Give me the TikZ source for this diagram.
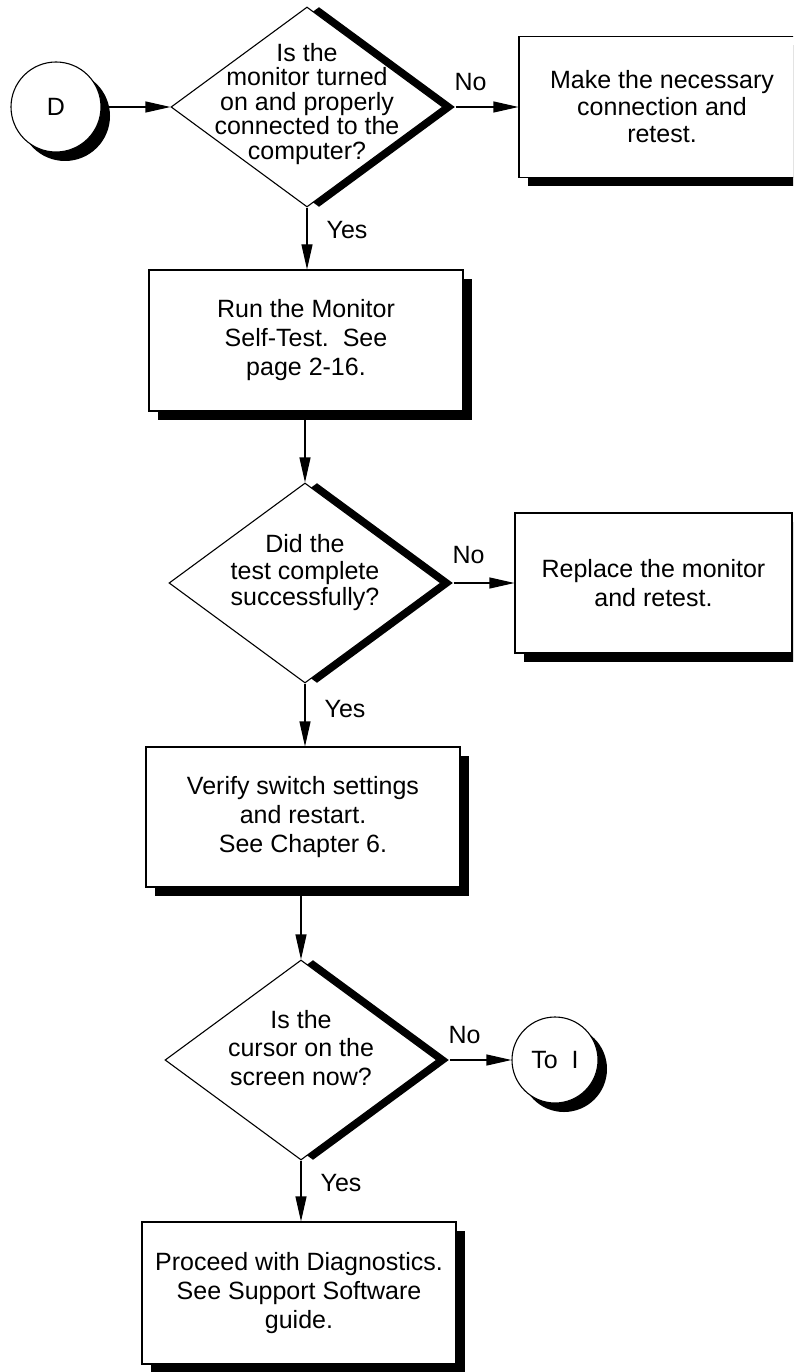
\documentclass[tikz,border=0pt]{standalone}
\usepackage{fontspec}
\setmainfont{Liberation Sans}
\usetikzlibrary{arrows.meta,shapes.geometric,shadows,calc}

\begin{document}
\begin{tikzpicture}[x=1pt,y=-1pt,
  every node/.style={font=\fontsize{25}{29}\selectfont},
  arr/.style={line width=1.1pt,-{Triangle[length=25pt,width=11pt]}},
  blackshadow/.style={drop shadow={shadow xshift=#1,shadow yshift=-#1,opacity=1,fill=black}},
  procbox/.style={draw,line width=1.1pt,fill=white,rectangle,
    minimum width=314pt,minimum height=141pt,inner sep=0pt,align=center,
    blackshadow=9pt},
  decision/.style={draw,line width=1.1pt,fill=white,diamond,
    minimum width=272pt,minimum height=200pt,inner sep=0pt,
    drop shadow={shadow xshift=12pt,shadow yshift=0pt,opacity=1,fill=black}},
  dtext/.style={align=center,inner sep=0pt},
  connector/.style={draw,line width=1.1pt,fill=white,circle,
    inner sep=0pt,blackshadow=9pt},
  answer/.style={inner sep=0pt}]

\useasboundingbox (0,0) rectangle (793,1372);
\clip (0,0) rectangle (793,1372);

% entry connector and first decision
\node[connector,minimum size=90pt] (cD) at (56,107) {D};
\node[decision] (d1) at (307,107) {};
\node[dtext,font=\fontsize{25}{24.5}\selectfont] (d1t) at ($(d1)+(0,-3)$)
  {Is the\\monitor turned\\on and properly\\connected to the\\computer?};
\node[procbox,minimum width=286pt,font=\fontsize{25}{27}\selectfont] (b1) at (662,107)
  {Make the necessary\\connection and\\retest.};

% self-test
\node[procbox] (b2) at (306,340.5) {Run the Monitor\\Self-Test.\ \ See\\page 2-16.};
\node[decision] (d2) at (305,583) {};
\node[dtext,font=\fontsize{25}{26.5}\selectfont] (d2t) at ($(d2)+(0,-10)$)
  {Did the\\test complete\\successfully?};
\node[procbox,minimum width=277pt,minimum height=140pt] (b3) at (653.5,583)
  {Replace the monitor\\and retest.};

% switch settings
\node[procbox,minimum height=140pt] (b4) at (303,817)
  {Verify switch settings\\and restart.\\See Chapter 6.};
\node[decision] (d3) at (301,1060) {};
\node[dtext,font=\fontsize{25}{28.5}\selectfont] (d3t) at ($(d3)+(0,-12)$)
  {Is the\\cursor on the\\screen now?};
\node[connector,minimum size=86pt] (cI) at (555,1060) {To\ \ I};
\node[procbox,minimum height=142pt] (b5) at (299,1293)
  {Proceed with Diagnostics.\\See Support Software\\guide.};

% connectors
\draw[arr] (cD.east) -- (d1.west);
\draw[arr] ([xshift=12pt]d1.east) -- (b1.west);
\draw[arr] (d1.south) -- (d1.south |- b2.north);
\draw[arr] (d2.north |- b2.south) -- (d2.north);
\draw[arr] ([xshift=12pt]d2.east) -- (b3.west);
\draw[arr] (d2.south) -- (d2.south |- b4.north);
\draw[arr] (d3.north |- b4.south) -- (d3.north);
\draw[arr] ([xshift=12pt]d3.east) -- (cI.west);
\draw[arr] (d3.south) -- (d3.south |- b5.north);

% branch labels
\node[answer] (n1) at ($(d1.east)+(27,-25)$) {No};
\node[answer] (y1) at ($(d1.south)+(40,22)$) {Yes};
\node[answer] (n2) at ($(d2.east)+(27,-28)$) {No};
\node[answer] (y2) at ($(d2.south)+(40,25)$) {Yes};
\node[answer] (n3) at ($(d3.east)+(27,-25)$) {No};
\node[answer] (y3) at ($(d3.south)+(40,22)$) {Yes};
\end{tikzpicture}
\end{document}
